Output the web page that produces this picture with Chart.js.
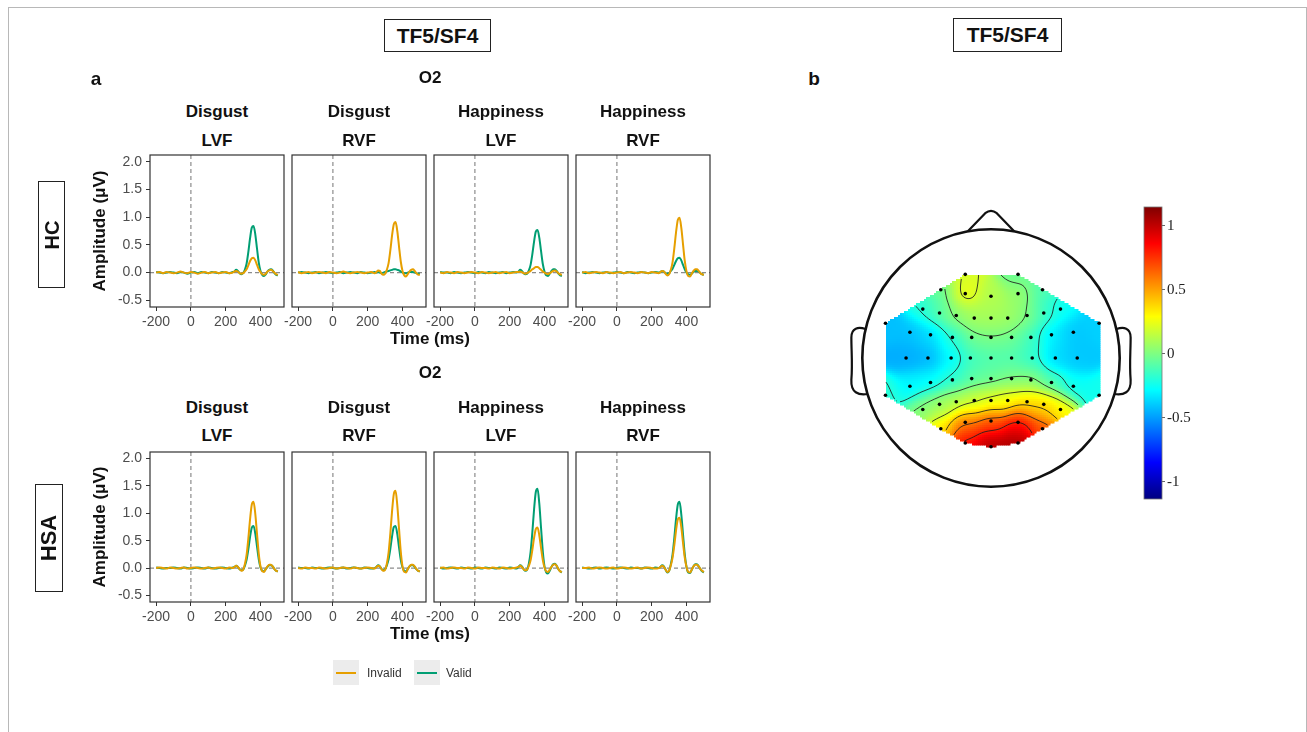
<!DOCTYPE html>
<html>
<head>
<meta charset="utf-8">
<script src="https://cdn.jsdelivr.net/npm/chart.js@4.4.1/dist/chart.umd.min.js"></script>
<style>
  body { margin: 0; background: #fff; font-family: "Liberation Sans", Arial, sans-serif; }
  #fig { position: relative; width: 1307px; height: 732px; overflow: hidden; }
  .t { position: absolute; transform: translate(-50%, -50%); white-space: nowrap; font-weight: bold; color: #111; }
  .box { position: absolute; border: 1.5px solid #222; box-sizing: border-box; }
  canvas { position: absolute; }
  #outer { position: absolute; left: 8px; top: 7px; width: 1297px; height: 800px; border: 1px solid #b8b8b8; }
  .key { position: absolute; width: 26px; height: 25px; background: #ececec; }
  .key i { position: absolute; left: 3px; right: 3px; top: 12px; height: 2px; }
</style>
</head>
<body>
<div id="fig"><div id="outer"></div></div>
<script>
// ---- ERP data (O2), time in ms ----
const TIMES = [-200,-180,-160,-140,-120,-100,-80,-60,-40,-20,0,20,40,60,80,100,120,140,160,180,200,220,240,
  250,260,270,280,290,300,310,320,330,340,350,360,370,380,390,400,410,420,430,440,450,460,470,480,490,500];
const X_TICKS = [-200, 0, 200, 400];
const Y_TICKS = [-0.5, 0, 0.5, 1, 1.5, 2];
const EMOTIONS = ["Disgust", "Disgust", "Happiness", "Happiness"];
const FIELDS = ["LVF", "RVF", "LVF", "RVF"];
const GROUPS = ["HC", "HSA"];
const SERIES_NAMES = ["Invalid", "Valid"];

const HC_DIS_LVF_INV = [0.00,0.01,-0.01,0.01,0.00,-0.01,0.00,0.02,0.00,-0.01,0.01,0.00,-0.02,0.00,0.01,-0.01,0.00,0.01,-0.01,0.00,0.01,-0.01,0.00,
  0.02,0.03,0.02,-0.01,-0.02,-0.01,0.02,0.06,0.13,0.21,0.26,0.27,0.22,0.14,0.06,0.01,-0.03,-0.04,-0.02,0.02,0.04,0.05,0.03,0.00,-0.03,-0.04];
const HC_DIS_LVF_VAL = [0.01,0.00,-0.01,0.00,0.01,0.00,-0.01,0.01,0.00,-0.02,0.00,0.01,-0.01,0.01,0.00,-0.01,0.01,0.00,-0.01,0.01,0.00,-0.01,0.01,
  0.02,0.05,0.03,-0.01,-0.03,-0.01,0.05,0.16,0.37,0.62,0.81,0.84,0.69,0.43,0.18,0.03,-0.04,-0.06,-0.03,0.02,0.05,0.06,0.04,-0.01,-0.04,-0.05];
const HC_DIS_RVF_INV = [0.01,-0.01,0.00,0.01,-0.01,0.00,0.01,0.00,-0.01,0.01,0.00,-0.01,0.00,0.02,0.00,-0.01,0.00,0.01,0.00,-0.01,0.00,0.01,-0.01,
  0.01,0.04,0.03,-0.02,-0.04,-0.02,0.05,0.17,0.40,0.67,0.87,0.91,0.75,0.47,0.20,0.03,-0.05,-0.07,-0.03,0.02,0.05,0.06,0.03,-0.01,-0.04,-0.04];
const HC_DIS_RVF_VAL = [0.00,0.01,0.00,-0.01,0.00,0.01,-0.01,0.00,0.01,0.00,-0.01,0.00,0.01,-0.01,0.00,0.01,0.00,-0.01,0.01,0.00,-0.01,0.00,0.01,
  0.00,0.01,0.00,-0.01,0.00,0.01,0.02,0.03,0.04,0.05,0.06,0.06,0.05,0.04,0.02,0.00,-0.01,-0.01,0.00,0.01,0.01,0.01,0.00,-0.01,-0.02,-0.02];
const HC_HAP_LVF_INV = [0.00,-0.01,0.01,0.00,-0.01,0.01,0.00,-0.01,0.00,0.01,0.00,-0.01,0.01,0.00,-0.01,0.00,0.01,-0.01,0.00,0.01,-0.01,0.00,0.01,
  0.01,0.02,0.01,-0.01,-0.02,-0.01,0.01,0.03,0.06,0.08,0.10,0.10,0.08,0.05,0.02,0.00,-0.02,-0.03,-0.01,0.01,0.03,0.04,0.02,-0.01,-0.03,-0.04];
const HC_HAP_LVF_VAL = [0.01,0.00,0.00,-0.01,0.01,0.00,-0.01,0.00,0.01,0.00,-0.01,0.01,0.00,-0.01,0.01,0.00,-0.01,0.00,0.01,-0.01,0.00,0.01,0.00,
  0.02,0.05,0.03,-0.01,-0.03,-0.02,0.04,0.14,0.33,0.56,0.74,0.77,0.63,0.39,0.16,0.02,-0.05,-0.06,-0.02,0.03,0.06,0.06,0.03,-0.02,-0.05,-0.06];
const HC_HAP_RVF_INV = [0.00,0.01,-0.01,0.00,0.01,0.00,-0.01,0.01,0.00,-0.01,0.00,0.01,-0.01,0.00,0.01,0.00,-0.01,0.01,0.00,-0.01,0.01,0.00,-0.01,
  0.01,0.03,0.02,-0.02,-0.05,-0.03,0.05,0.19,0.44,0.73,0.95,0.99,0.81,0.51,0.21,0.02,-0.06,-0.07,-0.02,0.03,0.06,0.06,0.03,-0.01,-0.03,-0.04];
const HC_HAP_RVF_VAL = [0.01,-0.01,0.00,0.01,0.00,-0.01,0.00,0.01,-0.01,0.00,0.01,0.00,-0.01,0.01,0.00,-0.01,0.00,0.01,0.00,-0.01,0.00,0.01,0.00,
  0.01,0.03,0.02,-0.01,-0.02,-0.01,0.03,0.07,0.14,0.21,0.26,0.27,0.22,0.14,0.06,0.00,-0.03,-0.04,-0.02,0.01,0.03,0.03,0.02,-0.01,-0.03,-0.04];

const HSA_DIS_LVF_INV = [0.00,0.01,0.00,-0.01,0.01,0.00,-0.01,0.00,0.01,-0.01,0.00,0.01,0.00,-0.01,0.00,0.01,-0.01,0.00,0.01,0.00,-0.01,0.01,0.00,
  0.02,0.04,0.02,-0.02,-0.05,-0.03,0.07,0.24,0.54,0.89,1.16,1.21,0.99,0.62,0.26,0.03,-0.06,-0.07,-0.02,0.03,0.06,0.06,0.03,-0.02,-0.05,-0.06];
const HSA_DIS_LVF_VAL = [0.01,0.00,-0.01,0.00,0.00,0.01,0.00,-0.01,0.01,0.00,-0.01,0.00,0.01,0.00,-0.01,0.01,0.00,-0.01,0.00,0.01,0.00,-0.01,0.01,
  0.02,0.04,0.02,-0.02,-0.04,-0.03,0.04,0.15,0.34,0.57,0.74,0.77,0.63,0.39,0.16,0.01,-0.05,-0.06,-0.02,0.02,0.05,0.05,0.03,-0.02,-0.05,-0.06];
const HSA_DIS_RVF_INV = [0.00,-0.01,0.01,0.00,0.00,-0.01,0.01,0.00,-0.01,0.00,0.01,-0.01,0.00,0.01,0.00,-0.01,0.01,0.00,-0.01,0.00,0.01,0.00,-0.01,
  0.02,0.04,0.03,-0.02,-0.05,-0.03,0.08,0.28,0.63,1.04,1.35,1.41,1.15,0.72,0.30,0.03,-0.07,-0.08,-0.02,0.03,0.06,0.06,0.03,-0.02,-0.05,-0.06];
const HSA_DIS_RVF_VAL = [0.01,0.00,0.00,-0.01,0.01,0.00,0.00,-0.01,0.00,0.01,0.00,-0.01,0.00,0.01,-0.01,0.00,0.01,0.00,-0.01,0.01,0.00,-0.01,0.00,
  0.02,0.05,0.03,-0.02,-0.04,-0.02,0.05,0.16,0.35,0.58,0.75,0.77,0.62,0.38,0.15,0.01,-0.05,-0.06,-0.02,0.03,0.05,0.05,0.02,-0.02,-0.05,-0.06];
const HSA_HAP_LVF_INV = [0.00,0.01,-0.01,0.00,0.01,0.00,0.00,-0.01,0.01,0.00,-0.01,0.01,0.00,0.00,-0.01,0.01,0.00,-0.01,0.01,0.00,-0.01,0.00,0.01,
  0.02,0.04,0.02,-0.02,-0.04,-0.03,0.04,0.14,0.33,0.55,0.71,0.74,0.60,0.37,0.15,0.01,-0.06,-0.07,-0.03,0.02,0.06,0.07,0.04,-0.02,-0.06,-0.07];
const HSA_HAP_LVF_VAL = [0.01,-0.01,0.00,0.01,0.00,-0.01,0.01,0.00,0.00,-0.01,0.01,0.00,-0.01,0.01,0.00,0.00,-0.01,0.01,0.00,-0.01,0.01,0.00,-0.01,
  0.02,0.05,0.03,-0.02,-0.05,-0.03,0.08,0.29,0.65,1.07,1.39,1.45,1.18,0.74,0.31,0.03,-0.08,-0.10,-0.05,0.02,0.07,0.08,0.04,-0.02,-0.06,-0.08];
const HSA_HAP_RVF_INV = [0.00,0.00,0.01,-0.01,0.00,0.01,0.00,-0.01,0.00,0.01,-0.01,0.00,0.01,0.00,-0.01,0.00,0.01,-0.01,0.00,0.01,0.00,-0.01,0.00,
  0.02,0.04,0.02,-0.03,-0.07,-0.05,0.05,0.19,0.42,0.69,0.89,0.92,0.75,0.46,0.19,0.02,-0.07,-0.08,-0.03,0.03,0.06,0.06,0.03,-0.02,-0.05,-0.07];
const HSA_HAP_RVF_VAL = [0.01,0.00,-0.01,0.00,0.01,-0.01,0.00,0.01,0.00,-0.01,0.00,0.01,0.00,-0.01,0.01,0.00,0.00,-0.01,0.01,0.00,-0.01,0.01,0.00,
  0.02,0.05,0.03,-0.03,-0.08,-0.05,0.07,0.25,0.55,0.90,1.16,1.21,0.98,0.61,0.25,0.02,-0.08,-0.09,-0.03,0.03,0.07,0.07,0.03,-0.02,-0.06,-0.08];

// ---- topography (TF5/SF4), head units, radius 1 ----
const ELEC_X = [-0.20,0.21,
  -0.39,-0.20,0.00,0.21,0.40,
  -0.53,-0.40,-0.27,-0.13,0.00,0.13,0.28,0.41,0.54,
  -0.82,-0.63,-0.47,-0.30,-0.15,0.00,0.16,0.31,0.47,0.64,0.84,
  -0.66,-0.49,-0.31,-0.16,0.00,0.16,0.32,0.50,0.67,
  -0.82,-0.63,-0.47,-0.30,-0.15,0.00,0.16,0.31,0.47,0.64,0.84,
  -0.53,-0.40,-0.27,-0.13,0.00,0.13,0.28,0.41,0.54,
  -0.39,-0.20,0.00,0.21,0.40,
  -0.20,0.00,0.21];
const ELEC_Y = [0.65,0.65,
  0.53,0.50,0.48,0.50,0.53,
  0.38,0.35,0.33,0.31,0.31,0.31,0.33,0.35,0.38,
  0.27,0.20,0.18,0.16,0.16,0.16,0.16,0.16,0.18,0.20,0.27,
  0.00,0.00,0.00,0.00,0.00,0.00,0.00,0.00,0.00,
  -0.29,-0.22,-0.19,-0.17,-0.16,-0.16,-0.16,-0.17,-0.19,-0.22,-0.29,
  -0.40,-0.36,-0.34,-0.33,-0.33,-0.33,-0.34,-0.36,-0.40,
  -0.55,-0.50,-0.49,-0.50,-0.55,
  -0.66,-0.69,-0.66];
const ELEC_V = [0.20,-0.05,
  -0.04,0.26,0.12,0.06,-0.10,
  -0.20,-0.08,0.04,0.10,0.10,0.08,0.02,-0.14,-0.26,
  -0.42,-0.42,-0.36,-0.20,-0.03,-0.01,-0.03,-0.14,-0.32,-0.40,-0.38,
  -0.46,-0.44,-0.30,-0.13,-0.10,-0.10,-0.17,-0.36,-0.40,
  -0.18,-0.30,-0.28,-0.19,-0.08,-0.05,0.00,0.02,-0.12,-0.26,-0.24,
  0.02,0.08,0.12,0.18,0.22,0.28,0.36,0.40,0.30,
  0.35,0.60,0.72,0.85,0.68,
  0.85,1.02,1.05];
const CONTOUR_LEVELS = [-0.2, 0, 0.2, 0.4, 0.6, 0.8];
const CBAR_MIN = -1.133, CBAR_MAX = 1.148;
const CBAR_TICKS = [-1, -0.5, 0, 0.5, 1];

const ORANGE = "#E69F00", GREEN = "#009E73";
Chart.defaults.font.family = "'Liberation Sans', Arial, sans-serif";

const fig = document.getElementById("fig");
function label(text, cx, cy, size, opts = {}) {
  const d = document.createElement("div");
  d.className = "t";
  d.textContent = text;
  d.style.left = cx + "px";
  d.style.top = cy + "px";
  d.style.fontSize = size + "px";
  if (opts.rot) d.style.transform = "translate(-50%,-50%) rotate(-90deg)";
  if (opts.normal) { d.style.fontWeight = "normal"; d.style.color = "#333"; }
  fig.appendChild(d);
  return d;
}
function box(l, t, w, h) {
  const d = document.createElement("div");
  d.className = "box";
  Object.assign(d.style, { left: l + "px", top: t + "px", width: w + "px", height: h + "px" });
  fig.appendChild(d);
}
function canvasAt(l, t, w, h) {
  const c = document.createElement("canvas");
  c.width = w; c.height = h;
  c.style.left = l + "px"; c.style.top = t + "px";
  fig.appendChild(c);
  return c;
}
// keep the plot area where the layout puts it, whatever room the labels ask for
function noEdgePadding(s) {
  s.paddingTop = 0; s.paddingBottom = 0; s.paddingLeft = 0; s.paddingRight = 0;
}

// ---- ERP panels ----
const refLines = {
  id: "refLines",
  beforeDatasetsDraw(chart) {
    const { ctx, chartArea: a, scales: { x, y } } = chart;
    const x0 = x.getPixelForValue(0), y0 = y.getPixelForValue(0);
    ctx.save();
    ctx.strokeStyle = "#8c8c8c"; ctx.lineWidth = 1.2; ctx.setLineDash([4, 3]);
    ctx.beginPath();
    ctx.moveTo(x0, a.top); ctx.lineTo(x0, a.bottom);
    ctx.moveTo(a.left, y0); ctx.lineTo(a.right, y0);
    ctx.stroke();
    ctx.restore();
  }
};
const frame = {
  id: "frame",
  afterDraw(chart) {
    const { ctx, chartArea: a } = chart;
    ctx.save();
    ctx.strokeStyle = "#333"; ctx.lineWidth = 1.2;
    ctx.strokeRect(a.left, a.top, a.right - a.left, a.bottom - a.top);
    ctx.restore();
  }
};

const BOX_LEFT = [150, 292, 434, 576], BOX_W = 134;
const ROW_TOP = [155, 452], ROW_H = [152, 150];
const ROWS = [
  [[HC_DIS_LVF_INV, HC_DIS_LVF_VAL], [HC_DIS_RVF_INV, HC_DIS_RVF_VAL], [HC_HAP_LVF_INV, HC_HAP_LVF_VAL], [HC_HAP_RVF_INV, HC_HAP_RVF_VAL]],
  [[HSA_DIS_LVF_INV, HSA_DIS_LVF_VAL], [HSA_DIS_RVF_INV, HSA_DIS_RVF_VAL], [HSA_HAP_LVF_INV, HSA_HAP_LVF_VAL], [HSA_HAP_RVF_INV, HSA_HAP_RVF_VAL]]
];

function drawPanel(r, c) {
  const showY = c === 0;
  const padL = showY ? 60 : 20;
  const cv = canvasAt(BOX_LEFT[c] - padL, ROW_TOP[r] - 1, padL + BOX_W + 1, ROW_H[r] + 27);
  const tickFont = { size: 14 };
  const pts = arr => TIMES.map((t, i) => ({ x: t, y: arr[i] }));
  const [inv, val] = ROWS[r][c];
  new Chart(cv, {
    type: "line",
    data: {
      datasets: [
        { label: SERIES_NAMES[0], data: pts(inv), borderColor: ORANGE, borderWidth: 2, pointRadius: 0, cubicInterpolationMode: "monotone" },
        { label: SERIES_NAMES[1], data: pts(val), borderColor: GREEN, borderWidth: 2, pointRadius: 0, cubicInterpolationMode: "monotone" }
      ]
    },
    options: {
      responsive: false, animation: false, events: [],
      layout: { padding: { left: showY ? 0 : padL, right: 1, top: 1, bottom: 0 } },
      plugins: { legend: { display: false }, tooltip: { enabled: false } },
      scales: {
        x: {
          type: "linear", min: -235, max: 535,
          afterBuildTicks: s => { s.ticks = X_TICKS.map(v => ({ value: v })); },
          afterFit: s => { s.height = 26; noEdgePadding(s); },
          ticks: { font: tickFont, color: "#4d4d4d", padding: 3, maxRotation: 0, autoSkip: false, callback: v => String(v) },
          grid: { drawOnChartArea: false, tickLength: 4, color: "#333" },
          border: { display: false }
        },
        y: {
          display: showY, min: -0.62, max: 2.12,
          afterBuildTicks: s => { s.ticks = Y_TICKS.map(v => ({ value: v })); },
          afterFit: s => { if (showY) s.width = 60; noEdgePadding(s); },
          ticks: { font: tickFont, color: "#4d4d4d", padding: 4, callback: v => v.toFixed(1) },
          grid: { drawOnChartArea: false, tickLength: 4, color: "#333" },
          border: { display: false }
        }
      }
    },
    plugins: [refLines, frame]
  });
}

const TITLE_Y = [[78, 112, 141, 339], [373, 408, 436, 634]];
for (let r = 0; r < 2; r++) {
  for (let c = 0; c < 4; c++) {
    drawPanel(r, c);
    const cx = BOX_LEFT[c] + BOX_W / 2;
    label(EMOTIONS[c], cx, TITLE_Y[r][1], 17);
    label(FIELDS[c], cx, TITLE_Y[r][2], 17);
  }
  label("O2", 430, TITLE_Y[r][0], 17);
  label("Time (ms)", 430, TITLE_Y[r][3], 17);
  label("Amplitude (μV)", 100, ROW_TOP[r] + ROW_H[r] / 2, 17, { rot: true });
}
box(38, 181, 27, 107); label(GROUPS[0], 51.5, 234.5, 20, { rot: true });
box(35, 484, 28, 108); label(GROUPS[1], 49, 538, 22, { rot: true });

box(384, 19, 107, 33); label("TF5/SF4", 437.5, 35.5, 21);
box(953, 18, 109, 34); label("TF5/SF4", 1007.5, 35, 21);
label("a", 96, 79, 19);
label("b", 814, 79, 19);

// legend
[[333, 367, ORANGE, SERIES_NAMES[0]], [414, 446, GREEN, SERIES_NAMES[1]]].forEach(([kx, tx, col, name]) => {
  const k = document.createElement("div");
  k.className = "key";
  k.style.left = kx + "px"; k.style.top = "660px";
  k.innerHTML = `<i style="background:${col}"></i>`;
  fig.appendChild(k);
  const t = label(name, 0, 673, 12, { normal: true });
  t.style.transform = "translate(0,-50%)";
  t.style.left = tx + "px";
});

// ---- topography ----
function jet(t) {
  t = Math.min(1, Math.max(0, t));
  const c = v => Math.round(255 * Math.min(1, Math.max(0, v)));
  return `rgb(${c(1.5 - Math.abs(4 * t - 3))},${c(1.5 - Math.abs(4 * t - 2))},${c(1.5 - Math.abs(4 * t - 1))})`;
}
function convexHull(p) {
  p = p.slice().sort((a, b) => a[0] - b[0] || a[1] - b[1]);
  const cross = (o, a, b) => (a[0] - o[0]) * (b[1] - o[1]) - (a[1] - o[1]) * (b[0] - o[0]);
  const lo = [], up = [];
  for (const q of p) { while (lo.length >= 2 && cross(lo[lo.length - 2], lo[lo.length - 1], q) <= 0) lo.pop(); lo.push(q); }
  for (const q of p.slice().reverse()) { while (up.length >= 2 && cross(up[up.length - 2], up[up.length - 1], q) <= 0) up.pop(); up.push(q); }
  return lo.slice(0, -1).concat(up.slice(0, -1));
}
function inside(u, v, poly) {
  let ins = false;
  for (let i = 0, j = poly.length - 1; i < poly.length; j = i++) {
    const [xi, yi] = poly[i], [xj, yj] = poly[j];
    if ((yi > v) !== (yj > v) && u < (xj - xi) * (v - yi) / (yj - yi) + xi) ins = !ins;
  }
  return ins;
}
function field(u, v) {
  let sw = 0, s = 0;
  for (let i = 0; i < ELEC_X.length; i++) {
    const d2 = (u - ELEC_X[i]) ** 2 + (v - ELEC_Y[i]) ** 2;
    const w = Math.exp(-d2 / (2 * 0.08 * 0.08));
    sw += w; s += w * ELEC_V[i];
  }
  return s / sw;
}

const topoField = {
  id: "topoField",
  beforeDatasetsDraw(chart) {
    const { ctx, scales: { x, y } } = chart;
    const hull = convexHull(ELEC_X.map((u, i) => [u, ELEC_Y[i]]));
    const hx = hull.map(p => x.getPixelForValue(p[0])), hy = hull.map(p => y.getPixelForValue(p[1]));
    const x0 = Math.floor(Math.min(...hx)) - 1, x1 = Math.ceil(Math.max(...hx)) + 1;
    const y0 = Math.floor(Math.min(...hy)) - 1, y1 = Math.ceil(Math.max(...hy)) + 1;
    const S = 2;
    const nx = Math.ceil((x1 - x0) / S) + 1, ny = Math.ceil((y1 - y0) / S) + 1;
    const G = [], IN = [];
    for (let j = 0; j < ny; j++) {
      G.push([]); IN.push([]);
      for (let i = 0; i < nx; i++) {
        const u = x.getValueForPixel(x0 + i * S), v = y.getValueForPixel(y0 + j * S);
        IN[j].push(inside(u, v, hull));
        G[j].push(field(u, v));
      }
    }
    ctx.save();
    for (let j = 0; j < ny - 1; j++) {
      for (let i = 0; i < nx - 1; i++) {
        const u = x.getValueForPixel(x0 + i * S + S / 2), v = y.getValueForPixel(y0 + j * S + S / 2);
        if (!inside(u, v, hull)) continue;
        const val = (G[j][i] + G[j][i + 1] + G[j + 1][i] + G[j + 1][i + 1]) / 4;
        ctx.fillStyle = jet((val - CBAR_MIN) / (CBAR_MAX - CBAR_MIN));
        ctx.fillRect(x0 + i * S, y0 + j * S, S + 0.5, S + 0.5);
      }
    }
    ctx.strokeStyle = "rgba(30,30,30,0.85)";
    ctx.lineWidth = 1;
    ctx.beginPath();
    for (const L of CONTOUR_LEVELS) {
      for (let j = 0; j < ny - 1; j++) {
        for (let i = 0; i < nx - 1; i++) {
          if (!(IN[j][i] && IN[j][i + 1] && IN[j + 1][i] && IN[j + 1][i + 1])) continue;
          const a = G[j][i], b = G[j][i + 1], c = G[j + 1][i + 1], d = G[j + 1][i];
          const px = x0 + i * S, py = y0 + j * S, q = [];
          if ((a - L) * (b - L) < 0) q.push([px + S * (L - a) / (b - a), py]);
          if ((b - L) * (c - L) < 0) q.push([px + S, py + S * (L - b) / (c - b)]);
          if ((d - L) * (c - L) < 0) q.push([px + S * (L - d) / (c - d), py + S]);
          if ((a - L) * (d - L) < 0) q.push([px, py + S * (L - a) / (d - a)]);
          if (q.length >= 2) { ctx.moveTo(q[0][0], q[0][1]); ctx.lineTo(q[1][0], q[1][1]); }
          if (q.length === 4) { ctx.moveTo(q[2][0], q[2][1]); ctx.lineTo(q[3][0], q[3][1]); }
        }
      }
    }
    ctx.stroke();
    ctx.restore();
  }
};
const headOutline = {
  id: "headOutline",
  afterDraw(chart) {
    const { ctx, scales: { x, y } } = chart;
    const P = (u, v) => [x.getPixelForValue(u), y.getPixelForValue(v)];
    const cx = x.getPixelForValue(0), cy = y.getPixelForValue(0);
    ctx.save();
    ctx.strokeStyle = "#111"; ctx.lineWidth = 2.6; ctx.lineJoin = "round";
    ctx.beginPath();
    ctx.arc(cx, cy, x.getPixelForValue(1) - cx, 0, Math.PI * 2);
    ctx.stroke();
    // nose
    ctx.lineWidth = 2.2;
    ctx.beginPath();
    ctx.moveTo(...P(-0.18, 0.984));
    ctx.lineTo(...P(-0.045, 1.125));
    ctx.quadraticCurveTo(...P(0, 1.16), ...P(0.045, 1.125));
    ctx.lineTo(...P(0.18, 0.984));
    ctx.stroke();
    // ears
    for (const s of [-1, 1]) {
      ctx.beginPath();
      ctx.moveTo(...P(s * 0.975, 0.225));
      ctx.bezierCurveTo(...P(s * 1.03, 0.245), ...P(s * 1.085, 0.235), ...P(s * 1.085, 0.16));
      ctx.bezierCurveTo(...P(s * 1.085, 0.05), ...P(s * 1.075, -0.05), ...P(s * 1.085, -0.17));
      ctx.bezierCurveTo(...P(s * 1.09, -0.27), ...P(s * 1.03, -0.29), ...P(s * 0.96, -0.28));
      ctx.stroke();
    }
    ctx.restore();
  }
};

new Chart(canvasAt(839, 206, 304, 304), {
  type: "scatter",
  data: { datasets: [{ data: ELEC_X.map((u, i) => ({ x: u, y: ELEC_Y[i] })), pointRadius: 1.8, backgroundColor: "#000", borderWidth: 0 }] },
  options: {
    responsive: false, animation: false, events: [],
    layout: { padding: 0 },
    plugins: { legend: { display: false }, tooltip: { enabled: false } },
    scales: {
      x: { type: "linear", min: -1.15, max: 1.15, display: false },
      y: { type: "linear", min: -1.15, max: 1.15, display: false }
    }
  },
  plugins: [topoField, headOutline]
});

// colour bar
const cbarFill = {
  id: "cbarFill",
  beforeDatasetsDraw(chart) {
    const { ctx, chartArea: a, scales: { y } } = chart;
    const g = ctx.createLinearGradient(0, y.getPixelForValue(CBAR_MIN), 0, y.getPixelForValue(CBAR_MAX));
    for (let k = 0; k <= 16; k++) g.addColorStop(k / 16, jet(k / 16));
    ctx.save();
    ctx.fillStyle = g;
    ctx.fillRect(a.left, a.top, a.right - a.left, a.bottom - a.top);
    ctx.strokeStyle = "#777"; ctx.lineWidth = 0.8;
    ctx.strokeRect(a.left, a.top, a.right - a.left, a.bottom - a.top);
    ctx.restore();
  }
};
new Chart(canvasAt(1142, 205, 62, 296), {
  type: "scatter",
  data: { datasets: [] },
  options: {
    responsive: false, animation: false, events: [],
    layout: { padding: { left: 2, top: 2, bottom: 2, right: 0 } },
    plugins: { legend: { display: false }, tooltip: { enabled: false } },
    scales: {
      x: { type: "linear", min: 0, max: 1, display: false },
      y: {
        type: "linear", position: "right", min: CBAR_MIN, max: CBAR_MAX,
        afterBuildTicks: s => { s.ticks = CBAR_TICKS.map(v => ({ value: v })); },
        afterFit: s => { s.width = 42; noEdgePadding(s); },
        ticks: { font: { family: "'Liberation Serif', 'Times New Roman', serif", size: 15 }, color: "#222", padding: 2, callback: v => String(v) },
        grid: { drawOnChartArea: false, tickLength: 3, color: "#666" },
        border: { display: false }
      }
    }
  },
  plugins: [cbarFill]
});
</script>
</body>
</html>
